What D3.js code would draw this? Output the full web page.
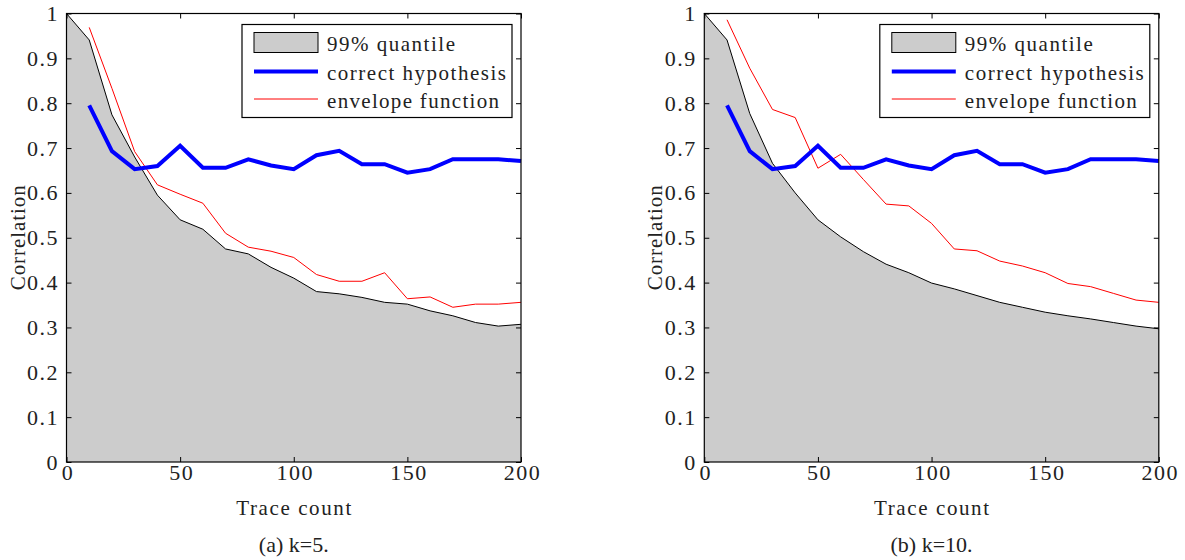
<!DOCTYPE html>
<html>
<head>
<meta charset="utf-8">
<script src="https://cdn.jsdelivr.net/npm/d3@7"></script>
<style>
  body { margin: 0; background: #fff; }
  svg text { font-family: 'Liberation Serif', 'DejaVu Serif', serif; fill: #222; }
</style>
</head>
<body>
<svg id="chart" width="1185" height="560"></svg>
<script>
// trace counts
var quantX = [0, 10, 20, 30, 40, 50, 60, 70, 80, 90, 100, 110, 120, 130, 140, 150, 160, 170, 180, 190, 200];
var lineX = [10, 20, 30, 40, 50, 60, 70, 80, 90, 100, 110, 120, 130, 140, 150, 160, 170, 180, 190, 200];

// (a) k=5
var quantA = [1.0, 0.941, 0.774, 0.68, 0.595, 0.540, 0.519, 0.475, 0.464, 0.434, 0.410, 0.380, 0.375, 0.367, 0.356, 0.352, 0.337, 0.326, 0.311, 0.303, 0.307];
var correctA = [0.795, 0.693, 0.653, 0.660, 0.705, 0.656, 0.656, 0.675, 0.661, 0.653, 0.684, 0.694, 0.664, 0.664, 0.645, 0.653, 0.675, 0.675, 0.675, 0.671];
var envelopeA = [0.969, 0.833, 0.692, 0.618, 0.597, 0.577, 0.510, 0.479, 0.470, 0.456, 0.418, 0.403, 0.403, 0.422, 0.364, 0.368, 0.345, 0.352, 0.352, 0.356];

// (b) k=10
var quantB = [1.0, 0.941, 0.777, 0.666, 0.600, 0.540, 0.502, 0.469, 0.441, 0.422, 0.399, 0.386, 0.371, 0.356, 0.345, 0.334, 0.326, 0.319, 0.311, 0.303, 0.297];
var correctB = [0.795, 0.693, 0.653, 0.660, 0.705, 0.656, 0.656, 0.675, 0.661, 0.653, 0.684, 0.694, 0.664, 0.664, 0.645, 0.653, 0.675, 0.675, 0.675, 0.671];
var envelopeB = [0.986, 0.878, 0.786, 0.768, 0.655, 0.686, 0.630, 0.575, 0.571, 0.532, 0.475, 0.471, 0.448, 0.437, 0.422, 0.398, 0.391, 0.376, 0.361, 0.356];

var xTicks = [0, 50, 100, 150, 200];
var yTicks = [0, 0.1, 0.2, 0.3, 0.4, 0.5, 0.6, 0.7, 0.8, 0.9, 1];
var legendLabels = ["99% quantile", "correct hypothesis", "envelope function"];

var svg = d3.select("#chart");
var pw = 454.5, ph = 448.5;

function drawPanel(left, quant, correct, envelope, caption) {
	var g = svg.append("g").attr("transform", "translate(" + left + ",13.5)");

	var x = d3.scaleLinear().domain([0, 200]).range([0, pw]);
	var y = d3.scaleLinear().domain([0, 1]).range([ph, 0]);

	// gray area under quantile
	var area = d3.area()
		.x(function (d, i) { return x(quantX[i]); })
		.y0(y(0))
		.y1(function (d) { return y(d); });
	g.append("path").datum(quant)
		.attr("d", area)
		.attr("fill", "#cccccc");
	g.append("path").datum(quant)
		.attr("d", d3.line().x(function (d, i) { return x(quantX[i]); }).y(function (d) { return y(d); }))
		.attr("fill", "none").attr("stroke", "#000").attr("stroke-width", 1);

	var line = d3.line()
		.x(function (d, i) { return x(lineX[i]); })
		.y(function (d) { return y(d); });

	g.append("path").datum(envelope)
		.attr("d", line)
		.attr("fill", "none").attr("stroke", "#ff0000").attr("stroke-width", 1);

	g.append("path").datum(correct)
		.attr("d", line)
		.attr("fill", "none").attr("stroke", "#0000ff").attr("stroke-width", 4)
		.attr("stroke-linejoin", "miter");

	// axes with inward ticks on all sides
	var fmt = function (d) { return d; };
	var bottom = g.append("g").attr("class", "Xaxis")
		.attr("transform", "translate(0," + ph + ")")
		.call(d3.axisBottom(x).tickValues(xTicks).tickSize(-5).tickPadding(9).tickFormat(fmt));
	var leftAx = g.append("g").attr("class", "Yaxis")
		.call(d3.axisLeft(y).tickValues(yTicks).tickSize(-5).tickPadding(9).tickFormat(fmt));
	g.append("g")
		.call(d3.axisTop(x).tickValues(xTicks).tickSize(-5).tickFormat(""));
	g.append("g")
		.attr("transform", "translate(" + pw + ",0)")
		.call(d3.axisRight(y).tickValues(yTicks).tickSize(-5).tickFormat(""));

	g.selectAll(".domain").attr("stroke", "none");
	g.selectAll(".tick line").attr("stroke", "#000");
	g.selectAll(".tick text")
		.style("font-size", "22px")
		.attr("letter-spacing", 1.5)
		.attr("fill", "#222");
	leftAx.selectAll(".tick text").attr("dx", 1.5);
	bottom.selectAll(".tick text").attr("dy", "0.42em").attr("dx", 1);

	g.append("rect")
		.attr("width", pw).attr("height", ph)
		.attr("fill", "none").attr("stroke", "#000").attr("stroke-width", 1.2);

	// legend
	var lg = g.append("g").attr("transform", "translate(" + (x(200) - 279) + ",11)");
	lg.append("rect")
		.attr("width", 270).attr("height", 93)
		.attr("fill", "#fff").attr("stroke", "#000").attr("stroke-width", 1.2);
	lg.append("rect")
		.attr("x", 12).attr("y", 8).attr("width", 64).attr("height", 20)
		.attr("fill", "#cccccc").attr("stroke", "#000").attr("stroke-width", 1);
	lg.append("line")
		.attr("x1", 12).attr("x2", 76).attr("y1", 47).attr("y2", 47)
		.attr("stroke", "#0000ff").attr("stroke-width", 4);
	lg.append("line")
		.attr("x1", 12).attr("x2", 76).attr("y1", 74.5).attr("y2", 74.5)
		.attr("stroke", "#ff0000").attr("stroke-width", 1);
	var widths = [128, 179, 172];
	lg.selectAll("text.leg")
		.data(legendLabels)
		.enter().append("text")
		.attr("class", "leg")
		.attr("x", 85)
		.attr("y", function (d, i) { return 26.5 + i * 28.5; })
		.style("font-size", "21px")
		.attr("textLength", function (d, i) { return widths[i]; })
		.attr("lengthAdjust", "spacing")
		.text(function (d) { return d; });

	// axis titles
	g.append("text")
		.attr("x", pw / 2).attr("y", ph + 53)
		.attr("text-anchor", "middle")
		.style("font-size", "21px")
		.attr("textLength", 115)
		.attr("lengthAdjust", "spacing")
		.text("Trace count");
	g.append("text")
		.attr("transform", "translate(" + (-42) + "," + (ph / 2) + ") rotate(-90)")
		.attr("text-anchor", "middle")
		.style("font-size", "21px")
		.attr("textLength", 105)
		.attr("lengthAdjust", "spacing")
		.text("Correlation");

	g.append("text")
		.attr("x", pw / 2).attr("y", ph + 90)
		.attr("text-anchor", "middle")
		.style("font-size", "22px")
		.attr("fill", "#000")
		.text(caption);
}

drawPanel(66.5, quantA, correctA, envelopeA, "(a) k=5.");
drawPanel(704.3, quantB, correctB, envelopeB, "(b) k=10.");
</script>
</body>
</html>
